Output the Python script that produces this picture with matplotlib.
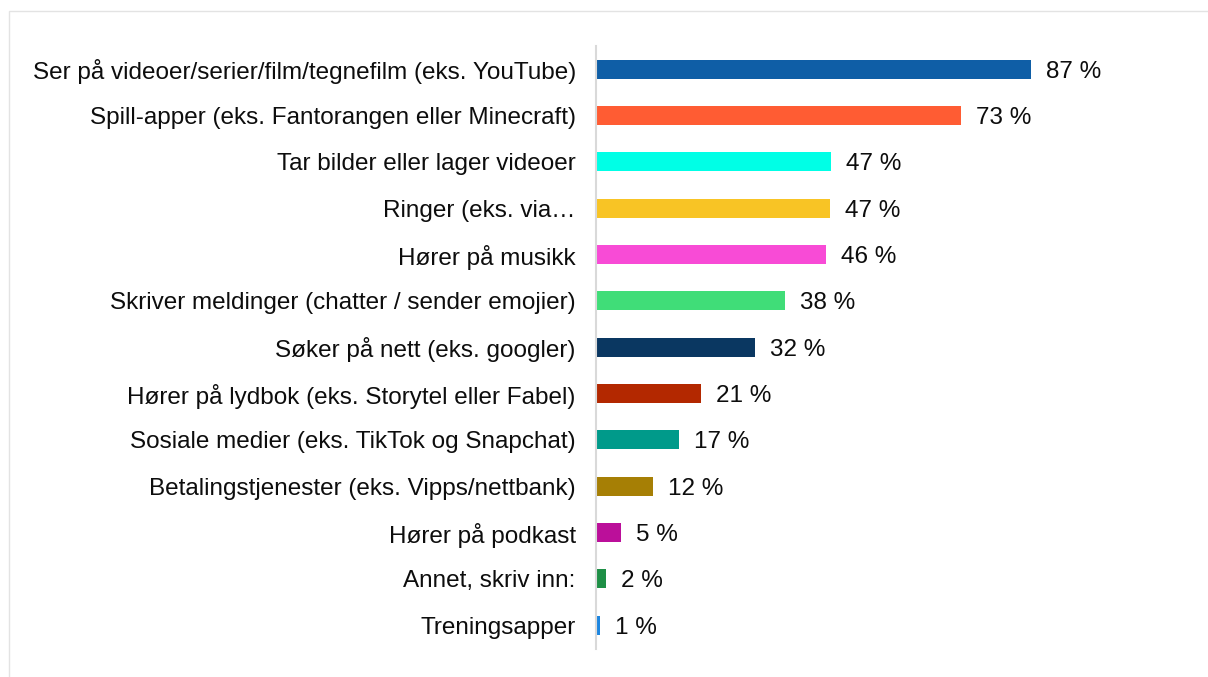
import matplotlib
matplotlib.use("Agg")
import matplotlib.pyplot as plt
from matplotlib.patches import Rectangle

plt.rcParams['font.family'] = ['Liberation Sans', 'DejaVu Sans']

categories = [
    "Ser på videoer/serier/film/tegnefilm (eks. YouTube)",
    "Spill-apper (eks. Fantorangen eller Minecraft)",
    "Tar bilder eller lager videoer",
    "Ringer (eks. via…",
    "Hører på musikk",
    "Skriver meldinger (chatter / sender emojier)",
    "Søker på nett (eks. googler)",
    "Hører på lydbok (eks. Storytel eller Fabel)",
    "Sosiale medier (eks. TikTok og Snapchat)",
    "Betalingstjenester (eks. Vipps/nettbank)",
    "Hører på podkast",
    "Annet, skriv inn:",
    "Treningsapper",
]
values = [87.0, 72.9, 46.95, 46.75, 45.95, 37.8, 31.8, 21.0, 16.6, 11.4, 5.0, 2.0, 0.8]
value_labels = ["87 %", "73 %", "47 %", "47 %", "46 %", "38 %", "32 %", "21 %",
                "17 %", "12 %", "5 %", "2 %", "1 %"]
colors = ["#0f5ea6", "#ff5c33", "#00ffe6", "#f8c425", "#f84bd6", "#40dd78",
          "#0a3761", "#b32800", "#009a8a", "#a67f05", "#bb0f9a", "#1e8f46", "#1d86e0"]

W, H = 1208, 677
fig = plt.figure(figsize=(W / 100, H / 100), dpi=100)
fig.patch.set_facecolor("white")

# light frame
fig.add_artist(Rectangle((9 / W, -0.05), 1.2, (H - 11) / H + 0.05, transform=fig.transFigure,
                         fill=False, edgecolor="#e3e3e3", linewidth=1.0))

left = 596 / W
right = 1096.5 / W
top = 1 - 46.1 / H
bottom = 1 - 648.5 / H
ax = fig.add_axes([left, bottom, right - left, top - bottom])

FS = 17.45
y = list(range(len(categories)))
ax.barh(y, values, height=0.41, color=colors)
ax.set_xlim(0, 100)
ax.set_ylim(len(categories) - 0.5, -0.5)
ax.set_yticks(y)
ax.set_yticklabels(categories, fontsize=FS, color="#0d0d0d", va="center_baseline")
ax.tick_params(axis="y", length=0, pad=14.5)
ax.set_xticks([])
for s in ["top", "right", "bottom"]:
    ax.spines[s].set_visible(False)
ax.spines["left"].set_color("#d9d9d9")
ax.spines["left"].set_linewidth(1.5)
ax.patch.set_alpha(0)

for yi, v, lab in zip(y, values, value_labels):
    ax.annotate(lab, (v, yi), xytext=(15, 0), textcoords="offset pixels",
                va="center_baseline", ha="left", fontsize=FS, color="#0d0d0d")

fig.savefig("out.png", dpi=100)
